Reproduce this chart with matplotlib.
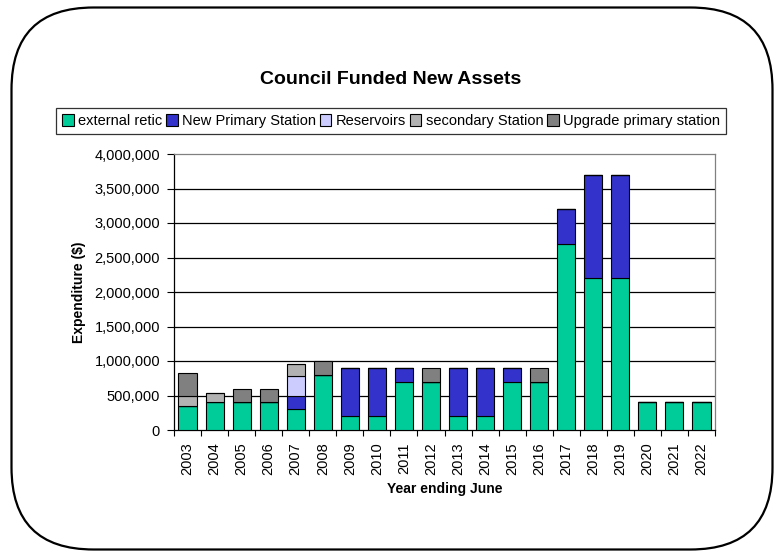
import matplotlib
matplotlib.use('Agg')
from matplotlib import pyplot as plt
from matplotlib.patches import FancyBboxPatch
from matplotlib.ticker import FuncFormatter
import numpy as np

plt.rcParams['font.family'] = ['Liberation Sans', 'DejaVu Sans']

years = [str(y) for y in range(2003, 2023)]

external_retic = [350000, 400000, 400000, 400000, 300000, 800000, 200000, 200000, 700000, 700000,
                  200000, 200000, 700000, 700000, 2700000, 2200000, 2200000, 400000, 400000, 400000]
new_primary = [0, 0, 0, 0, 200000, 0, 700000, 700000, 200000, 0,
               700000, 700000, 200000, 0, 500000, 1500000, 1500000, 0, 0, 0]
reservoirs = [0, 0, 0, 0, 280000, 0, 0, 0, 0, 0,
              0, 0, 0, 0, 0, 0, 0, 0, 0, 0]
secondary = [150000, 130000, 0, 0, 180000, 0, 0, 0, 0, 0,
             0, 0, 0, 0, 0, 0, 0, 0, 0, 0]
upgrade_primary = [320000, 0, 200000, 200000, 0, 200000, 0, 0, 0, 200000,
                   0, 0, 0, 200000, 0, 0, 0, 0, 0, 0]

series = [
    ('external retic', external_retic, '#00CC99'),
    ('New Primary Station', new_primary, '#3333CC'),
    ('Reservoirs', reservoirs, '#CCCCFF'),
    ('secondary Station', secondary, '#B2B2B2'),
    ('Upgrade primary station', upgrade_primary, '#808080'),
]

fig = plt.figure(figsize=(7.78, 5.52), dpi=100)

# rounded outline round the whole chart
border = FancyBboxPatch((0.115, 0.025), 7.61, 5.42,
                        boxstyle='round,pad=0,rounding_size=0.82',
                        transform=fig.dpi_scale_trans, fill=False,
                        edgecolor='black', linewidth=1.6)
fig.patches.append(border)

ax = fig.add_axes([174 / 778, 1 - 430 / 552, (715 - 174) / 778, (430 - 154) / 552])

x = np.arange(len(years))
bottom = np.zeros(len(years))
for name, vals, col in series:
    vals = np.array(vals, dtype=float)
    ax.bar(x, vals, width=0.67, bottom=bottom, color=col, edgecolor='black',
           linewidth=0.8, label=name, zorder=3)
    bottom += vals

ax.set_xlim(-0.5, len(years) - 0.5)
ax.set_ylim(0, 4000000)
ax.set_yticks(np.arange(0, 4000001, 500000))
ax.yaxis.set_major_formatter(FuncFormatter(lambda v, p: f'{int(v):,}'))
for yv in np.arange(500000, 4000000, 500000):
    ax.axhline(yv, color='black', linewidth=0.9, zorder=1)

ax.set_xticks(x)
ax.set_xticklabels(years, rotation=90, fontsize=10.5)
ax.set_xticks(np.arange(-0.5, len(years), 1), minor=True)
ax.tick_params(axis='x', which='major', length=0, pad=9)
ax.tick_params(axis='x', which='minor', length=4, direction='out', width=0.8)
ax.tick_params(axis='y', length=5, direction='out', width=0.8, labelsize=10.5, pad=5)

for s in ['top', 'right']:
    ax.spines[s].set_color('#808080')
    ax.spines[s].set_linewidth(0.9)
for s in ['left', 'bottom']:
    ax.spines[s].set_linewidth(0.9)

ax.set_ylabel('Expenditure ($)', fontsize=10, fontweight='bold', labelpad=6)
ax.set_xlabel('Year ending June', fontsize=10, fontweight='bold', labelpad=5)

fig.text(391 / 778, 1 - 80 / 552, 'Council Funded New Assets', ha='center', va='center',
         fontsize=14, fontweight='bold')

handles, labels = ax.get_legend_handles_labels()
leg = fig.legend(handles, labels, ncol=5, loc='center', bbox_to_anchor=(391 / 778, 1 - 121 / 552),
                 fontsize=10.5, frameon=True, fancybox=False, edgecolor='black',
                 handlelength=0.8, handleheight=0.8, handletextpad=0.3, columnspacing=0.25,
                 borderpad=0.4, borderaxespad=0)
leg.get_frame().set_linewidth(0.9)

fig.savefig('out.png', dpi=100)
